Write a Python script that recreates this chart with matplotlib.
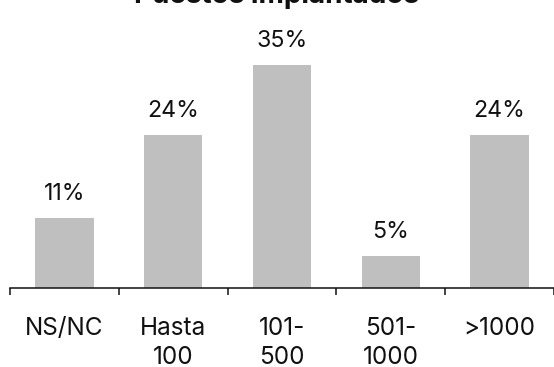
import matplotlib
matplotlib.use("Agg")
import matplotlib.pyplot as plt

categories = ["NS/NC", "Hasta\n100", "101-\n500", "501-\n1000", ">1000"]
values = [11, 24, 35, 5, 24]
value_labels = ["11%", "24%", "35%", "5%", "24%"]
title = "Puestos implantados"

plt.rcParams['font.family'] = ['Inter', 'DejaVu Sans']
txt = '#111111'
bar_color = '#bfbfbf'

W, H = 554, 367
fig = plt.figure(figsize=(W / 100, H / 100), dpi=100)
ax_bottom_px = 288
ax_top_px = 33
ax = fig.add_axes([10 / W, (H - ax_bottom_px) / H, 544 / W, (ax_bottom_px - ax_top_px) / H])

x = list(range(len(categories)))
ax.bar(x, values, width=0.535, color=bar_color, zorder=2)
ax.set_xlim(-0.5, len(categories) - 0.5)
ax.set_ylim(0, 40)

for xi, v, lab in zip(x, values, value_labels):
    ax.annotate(lab, (xi, v), xytext=(0, 13), textcoords='offset points',
                ha='center', va='baseline', fontsize=16.7, color=txt)

for s in ['top', 'right', 'left']:
    ax.spines[s].set_visible(False)
ax.spines['bottom'].set_linewidth(1.1)
ax.spines['bottom'].set_color(txt)
ax.set_yticks([])

ax.set_xticks([i - 0.5 for i in range(len(categories) + 1)], minor=False)
ax.set_xticklabels([])
ax.tick_params(axis='x', which='major', length=5, width=1.1, color=txt, direction='out')
ax.set_xticks(x, minor=True)
ax.set_xticklabels(categories, minor=True)
ax.tick_params(axis='x', which='minor', length=0, pad=21, labelsize=17.5, labelcolor=txt)
for t in ax.get_xticklabels(minor=True):
    t.set_verticalalignment('top')
    t.set_linespacing(1.35)

fig.text(0.5, 1 - 3 / H, title, ha='center', va='baseline', fontsize=20,
         fontweight='bold', color=txt)

fig.savefig('out.png', dpi=100)
